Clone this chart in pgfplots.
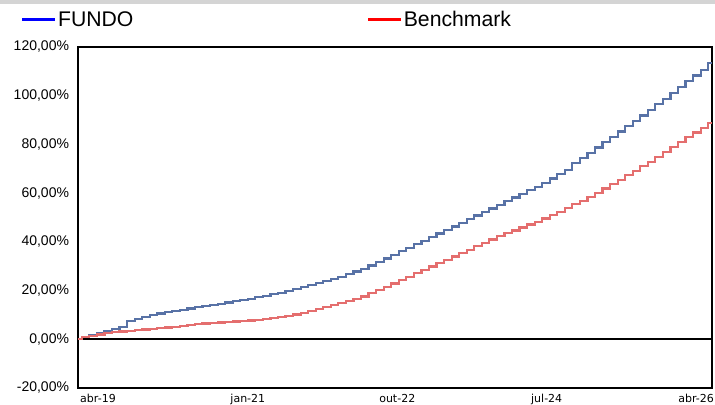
\documentclass[border=0pt]{standalone}
\usepackage{fontspec}
\setmainfont{Liberation Sans}
\newfontfamily\tickfont{DejaVu Sans}
\usepackage{pgfplots}
\pgfplotsset{compat=1.18}

\definecolor{fundo}{RGB}{88,114,166}
\definecolor{bench}{RGB}{228,110,110}

% monthly cumulative returns, month 0 = abr-19
\pgfplotstableread{
m f b
0 0 0
1 0.9 0.8
2 1.8 1.4
3 2.6 2.0
4 3.4 2.5
5 4.2 2.9
6 5.0 3.2
7 7.6 3.5
8 8.4 3.8
9 9.2 4.0
10 9.9 4.2
11 10.6 4.5
12 11.1 4.8
13 11.6 5.1
14 12.1 5.5
15 12.6 5.9
16 13.1 6.2
17 13.6 6.5
18 14.1 6.7
19 14.6 6.9
20 15.1 7.1
21 15.6 7.3
22 16.1 7.5
23 16.7 7.7
24 17.3 7.9
25 17.9 8.2
26 18.5 8.6
27 19.1 9.1
28 19.8 9.6
29 20.6 10.2
30 21.4 10.9
31 22.2 11.5
32 23.0 12.3
33 23.8 13.1
34 24.7 14.0
35 25.7 14.9
36 26.7 15.8
37 27.8 16.7
38 28.9 17.6
39 30.3 18.9
40 31.7 20.2
41 33.2 21.5
42 34.6 22.9
43 36.1 24.3
44 37.5 25.7
45 39.0 27.1
46 40.4 28.5
47 41.9 29.9
48 43.4 31.3
49 44.9 32.7
50 46.3 34.0
51 47.8 35.4
52 49.3 36.8
53 50.8 38.2
54 52.2 39.6
55 53.7 41.0
56 55.2 42.3
57 56.7 43.5
58 58.2 44.7
59 59.7 45.9
60 61.2 47.1
61 62.6 48.3
62 64.3 49.6
63 66.0 51.0
64 67.8 52.4
65 69.6 53.9
66 72.5 55.4
67 74.5 56.9
68 76.5 58.5
69 78.7 60.2
70 80.9 61.9
71 83.1 63.7
72 85.3 65.5
73 87.5 67.3
74 89.7 69.1
75 91.9 71.0
76 94.2 72.9
77 96.5 74.9
78 98.8 76.9
79 101.1 78.9
80 103.5 80.9
81 105.9 82.9
82 108.3 84.9
83 110.7 86.9
84 113.3 88.8
}\perf

\begin{document}
\begin{tikzpicture}
\useasboundingbox (0,0) rectangle (715bp,405bp);
\clip (0,0) rectangle (715bp,405bp);
\fill[white] (0,0) rectangle (715bp,405bp);
\fill[black!17] (0,401bp) rectangle (715bp,405bp);
\begin{axis}[
    at={(78bp,17bp)}, anchor=south west,
    scale only axis, width=634bp, height=341bp,
    xmin=0, xmax=84, ymin=-20, ymax=120,
    line width=2bp,
    axis line style={black, line width=2bp},
    major tick length=0pt,
    xtick={2.65,22.5,42.3,62.1,81.9},
    xticklabels={abr-19,jan-21,out-22,jul-24,abr-26},
    xticklabel style={font=\tickfont\fontsize{11bp}{13bp}\selectfont, anchor=base, yshift=-14bp, inner sep=0pt},
    ytick={-20,0,...,120},
    yticklabels={-20{,}00\%,0{,}00\%,20{,}00\%,40{,}00\%,60{,}00\%,80{,}00\%,100{,}00\%,120{,}00\%},
    yticklabel style={font=\fontsize{14bp}{16bp}\selectfont, anchor=east, xshift=-8bp, inner sep=0pt},
    legend columns=2,
    legend style={at={(-0.0915,1.08)}, anchor=west, draw=none, fill=none,
        font=\fontsize{21.2bp}{25bp}\selectfont, inner sep=0pt,
        nodes={inner sep=1.3bp},
        /tikz/every even column/.append style={column sep=232bp}},
    legend image code/.code={\draw[#1] (0bp,0bp) -- (33bp,0bp);},
]
\addlegendimage{blue, line width=2.8bp}
\addlegendentry{FUNDO}
\addlegendimage{red, line width=2.8bp}
\addlegendentry{Benchmark}
\addplot[black, line width=2bp, forget plot] coordinates {(0,0) (84,0)};
\addplot[const plot mark mid, fundo, line width=2.2bp, forget plot] table[x=m, y=f] {\perf};
\addplot[const plot mark mid, bench, line width=2.2bp, forget plot] table[x=m, y=b] {\perf};
\end{axis}
\end{tikzpicture}
\end{document}
